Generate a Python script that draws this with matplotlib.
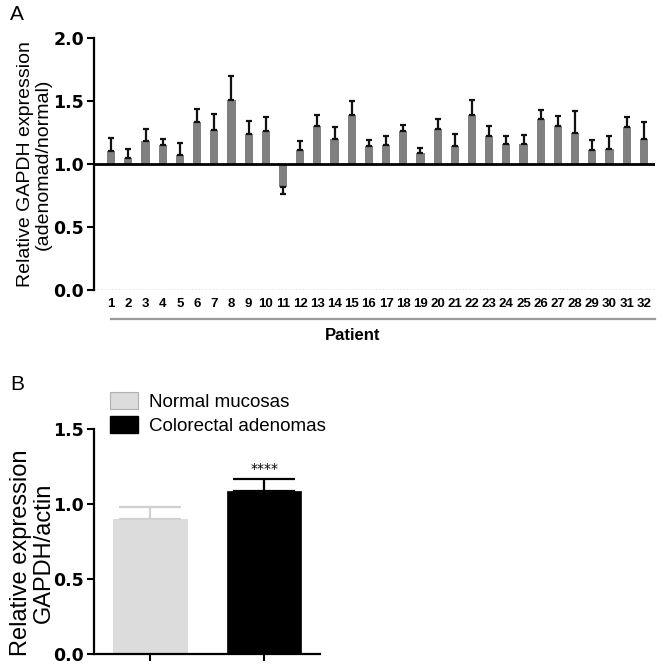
import matplotlib
matplotlib.use("Agg")
import matplotlib.pyplot as plt
import matplotlib.transforms as mtransforms
from matplotlib.patches import Patch
import numpy as np

# ---- data ----
patients = [str(i) for i in range(1, 33)]
ratio = [1.10, 1.05, 1.18, 1.15, 1.07, 1.33, 1.27, 1.51, 1.24, 1.26, 0.82, 1.11,
         1.30, 1.20, 1.39, 1.14, 1.15, 1.26, 1.09, 1.28, 1.14, 1.39, 1.22, 1.16,
         1.16, 1.36, 1.30, 1.25, 1.11, 1.12, 1.29, 1.20]
ratio_sem = [0.11, 0.07, 0.10, 0.05, 0.10, 0.11, 0.13, 0.19, 0.10, 0.11, 0.06, 0.07,
             0.09, 0.09, 0.11, 0.05, 0.07, 0.05, 0.04, 0.08, 0.10, 0.12, 0.08, 0.06,
             0.07, 0.07, 0.08, 0.17, 0.08, 0.10, 0.08, 0.13]
yticksA = [0.0, 0.5, 1.0, 1.5, 2.0]

groups = ["Normal mucosas", "Colorectal adenomas"]
group_vals = [0.90, 1.087]
group_sem = [0.078, 0.083]
group_colors = ["#dcdcdc", "#000000"]
yticksB = [0.0, 0.5, 1.0, 1.5]

W, H = 663, 668
fig = plt.figure(figsize=(W / 100, H / 100), dpi=100)

def fx(x):
    return x / W

def fy(y):
    return 1 - y / H

tickfont = dict(family="DejaVu Sans", weight="bold", size=12.5)

# ---------------- Panel A ----------------
axA = fig.add_axes([fx(94), fy(290), fx(655) - fx(94), fy(38) - fy(290)])
x = np.arange(1, len(ratio) + 1)
r = np.array(ratio)
s = np.array(ratio_sem)
axA.bar(x, r - 1, bottom=1, width=0.48, color="#808080", zorder=2)
lower = np.where(r < 1, s, 0)
upper = np.where(r >= 1, s, 0)
axA.errorbar(x, r, yerr=[lower, upper], fmt="none", ecolor="#111111",
             elinewidth=1.6, capsize=2.5, capthick=1.6, zorder=3)
axA.axhline(1.0, color="black", lw=2, zorder=4)
axA.axhline(0.0, color="#888888", lw=1, ls=(0, (1, 1.5)), zorder=1)
axA.set_xlim(0.0, 32.65)
axA.set_ylim(0, 2.0)
axA.set_yticks(yticksA)
axA.set_yticklabels([f"{v:.1f}" for v in yticksA], fontdict=tickfont)
axA.set_xticks(x)
axA.set_xticklabels(patients, fontdict=dict(family="Liberation Sans", weight="bold", size=9.5))
axA.tick_params(axis="x", length=0, pad=6)
axA.tick_params(axis="y", length=5, width=1.5, pad=2, direction="out")
for sp in ["top", "right", "bottom"]:
    axA.spines[sp].set_visible(False)
axA.spines["left"].set_linewidth(1.6)
axA.set_ylabel("Relative GAPDH expression\n(adenomad/normal)",
               fontdict=dict(family="Liberation Sans", size=14),
               labelpad=1, linespacing=1.05)
tr = mtransforms.blended_transform_factory(axA.transData, axA.transAxes)
axA.plot([1, 32.65], [-0.115, -0.115], color="#9a9a9a", lw=1.6,
         transform=tr, clip_on=False)
fig.text(fx(353), fy(336), "Patient", ha="center", va="center",
         family="Liberation Sans", weight="bold", size=12)
fig.text(fx(10), fy(14), "A", ha="left", va="center", family="Liberation Sans", size=15)

# ---------------- Panel B ----------------
axB = fig.add_axes([fx(94), fy(654), fx(320) - fx(94), fy(429) - fy(654)])
xb = np.arange(len(groups))
for i in range(len(groups)):
    axB.bar(xb[i], group_vals[i], width=0.65, color=group_colors[i],
            label=groups[i], zorder=2,
            edgecolor="#d4d4d4" if i == 0 else "black", linewidth=0.5)
    axB.errorbar(xb[i], group_vals[i], yerr=[[0], [group_sem[i]]], fmt="none",
                 ecolor="#d0d0d0" if i == 0 else "black", elinewidth=1.6,
                 capsize=22, capthick=1.6, zorder=1)
axB.text(xb[1], group_vals[1] + group_sem[1] + 0.02, "****", ha="center", va="bottom",
         family="DejaVu Sans", size=10)
axB.set_xlim(-0.49, 1.49)
axB.set_ylim(0, 1.5)
axB.set_yticks(yticksB)
axB.set_yticklabels([f"{v:.1f}" for v in yticksB], fontdict=tickfont)
axB.set_xticks(xb)
axB.set_xticklabels([])
axB.tick_params(axis="both", length=5, width=1.5, pad=2, direction="out")
for sp in ["top", "right"]:
    axB.spines[sp].set_visible(False)
axB.spines["left"].set_linewidth(1.6)
axB.spines["bottom"].set_linewidth(1.6)
axB.set_ylabel("Relative expression\nGAPDH/actin",
               fontdict=dict(family="Liberation Sans", size=17),
               linespacing=1.0)
axB.yaxis.set_label_coords(-0.175, 0.45)
handles = [Patch(facecolor=group_colors[0], edgecolor="#b0b0b0", lw=0.8),
           Patch(facecolor=group_colors[1], edgecolor="black")]
fig.legend(handles, groups, loc="upper left", bbox_to_anchor=(fx(106), fy(388)),
           frameon=False, prop=dict(family="Liberation Sans", size=13.5),
           handlelength=1.5, handleheight=1.0, handletextpad=0.6, labelspacing=0.3,
           borderaxespad=0, borderpad=0.2)
fig.text(fx(10), fy(385), "B", ha="left", va="center", family="Liberation Sans", size=15)

fig.savefig("out.png", dpi=100)
